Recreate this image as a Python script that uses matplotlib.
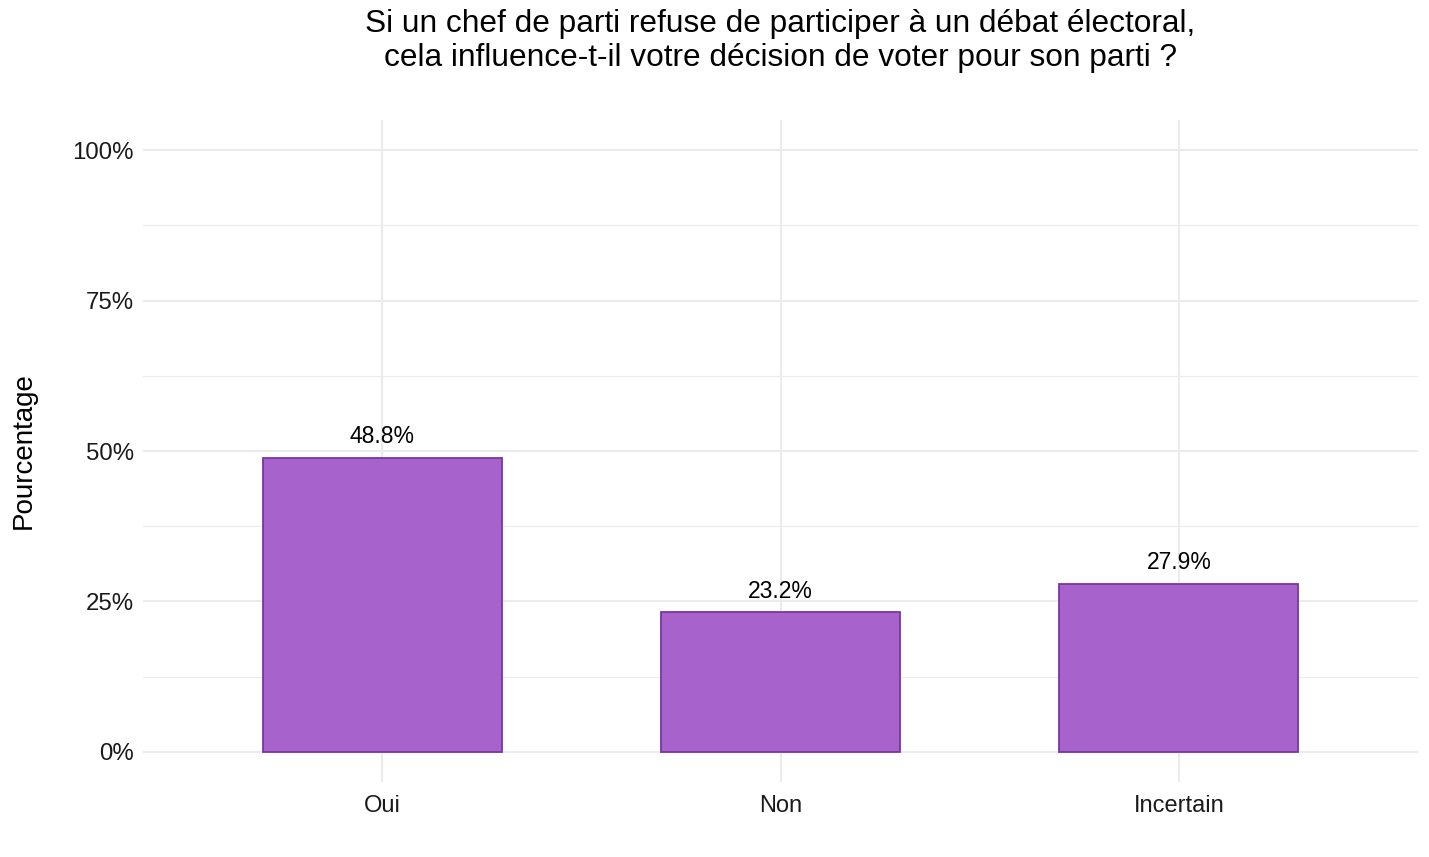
import matplotlib
matplotlib.use("Agg")
import matplotlib.pyplot as plt
from matplotlib.ticker import MultipleLocator

categories = ["Oui", "Non", "Incertain"]
values = [48.8, 23.2, 27.9]
labels = ["48.8%", "23.2%", "27.9%"]
yticks = [0, 25, 50, 75, 100]
ytick_labels = ["0%", "25%", "50%", "75%", "100%"]

plt.rcParams['font.family'] = ['Liberation Sans', 'DejaVu Sans']

W, H = 1429, 857
fig = plt.figure(figsize=(W / 100, H / 100), dpi=100)
ax = fig.add_axes([143 / W, (H - 782) / H, (1418 - 143) / W, (782 - 120) / H])

x = list(range(1, len(categories) + 1))
ax.bar(x, values, width=0.6, color="#A862CB", edgecolor="#7A36A0", linewidth=1.3, zorder=3)
for xi, v, lab in zip(x, values, labels):
    ax.annotate(lab, (xi, v), xytext=(0, 7), textcoords="offset points",
                ha="center", va="bottom", fontsize=16.5, color="black", zorder=4)

ax.set_xlim(0.4, 3.6)
ax.set_ylim(-5, 105)
ax.set_xticks(x)
ax.set_xticklabels(categories)
ax.set_yticks(yticks)
ax.set_yticklabels(ytick_labels)
ax.yaxis.set_minor_locator(MultipleLocator(12.5))

ax.grid(True, which="major", axis="both", color="#EBEBEB", linewidth=1.5, zorder=0)
ax.grid(True, which="minor", axis="y", color="#EBEBEB", linewidth=0.8, zorder=0)
ax.set_axisbelow(True)
for s in ax.spines.values():
    s.set_visible(False)
ax.tick_params(axis="both", which="both", length=0, labelsize=17.3, labelcolor="#1a1a1a")
ax.tick_params(axis="x", labelsize=17)
ax.tick_params(axis="y", pad=6.5)
ax.tick_params(axis="x", pad=9)

ax.set_ylabel("Pourcentage", fontsize=20, color="black", labelpad=26)

fig.text(780.5 / W, 1 - 41 / H,
         "Si un chef de parti refuse de participer à un débat électoral,\ncela influence-t-il votre décision de voter pour son parti ?",
         ha="center", va="center", fontsize=22.8, color="black", linespacing=1.2)

fig.savefig("out.png", dpi=100, facecolor="white")
